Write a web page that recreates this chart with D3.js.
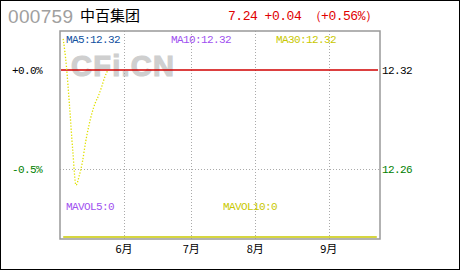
<!DOCTYPE html>
<html>
<head>
<meta charset="utf-8">
<script src="https://cdn.jsdelivr.net/npm/d3@7"></script>
<style>
  body { margin: 0; background: #fff; }
  svg text { font-family: "Liberation Mono", "DejaVu Sans Mono", monospace; }
  .lbl { font-size: 11px; letter-spacing: -0.6px; }
</style>
</head>
<body>
<div id="chart"></div>
<script>
// stock header
var code = "000759", name = "中百集团";
var quote = "7.24 +0.04 \uFF08+0.56%\uFF09";
var basePrice = 12.32;

// trading day index of month starts, with labels
var monthLabels = ["6月", "7月", "8月", "9月"];
var monthDays = [20, 41, 61, 84];

// line: trading day index and % change vs base
var lineDays = [1, 2, 3, 4, 5, 6, 7, 8, 9, 10, 11, 12, 13, 14, 15];
var lineValues = [0.157, 0.02, -0.187, -0.409, -0.581, -0.535, -0.465, -0.364, -0.283, -0.217, -0.167, -0.131, -0.086, -0.035, 0.0];

// y ticks (%)
var pctTicks = [0, -0.5];

var maLabels = ["MA5:12.32", "MA10:12.32", "MA30:12.32"];
var volLabels = ["MAVOL5:0", "MAVOL10:0"];

var W = 460, H = 270;
var pLeft = 60, pRight = 380, pTop = 31, pBottom = 239;

var svg = d3.select("#chart").append("svg")
  .attr("width", W).attr("height", H);

// outer border
svg.append("rect")
  .attr("x", 0.5).attr("y", 0.5)
  .attr("width", W - 1).attr("height", H - 1)
  .attr("fill", "#fff").attr("stroke", "#000");

var x = d3.scaleLinear().domain([0, 100]).range([pLeft, pRight]);
var y = d3.scaleLinear().domain([-0.5, 0]).range([169, 70]);
var volY = d3.scaleLinear().domain([0, 1]).range([237, 190]);

// header
svg.append("text")
  .attr("x", 8).attr("y", 23)
  .style("font-family", "Arial, 'Liberation Sans', sans-serif")
  .style("font-size", "19px")
  .attr("fill", "#a0a0a0")
  .attr("textLength", 65)
  .text(code);

svg.append("text")
  .attr("x", 80).attr("y", 21)
  .style("font-family", "'Noto Sans CJK SC', sans-serif")
  .style("font-size", "15px")
  .attr("fill", "#000")
  .text(name);

svg.append("text")
  .attr("x", 228).attr("y", 20)
  .style("font-size", "13px")
  .attr("fill", "#e00000")
  .attr("textLength", 150)
  .text(quote);

// watermark
svg.append("text")
  .attr("x", 71).attr("y", 76)
  .style("font-family", "Arial, 'Liberation Sans', sans-serif")
  .style("font-size", "29px")
  .style("font-weight", "bold")
  .attr("fill", "#cfcfcf")
  .attr("stroke", "#cfcfcf")
  .attr("stroke-width", 1.2)
  .attr("textLength", 103)
  .text("CFi.CN");

// vertical grid
svg.selectAll(".vgrid").data(monthDays).enter().append("line")
  .attr("x1", function(d) { return Math.round(x(d)) + 0.5; })
  .attr("x2", function(d) { return Math.round(x(d)) + 0.5; })
  .attr("y1", pTop).attr("y2", pBottom)
  .attr("stroke", "#aaa").attr("stroke-dasharray", "1,2");

// horizontal grid at -0.5%
svg.append("line")
  .attr("x1", pLeft).attr("x2", pRight)
  .attr("y1", y(-0.5) + 0.5).attr("y2", y(-0.5) + 0.5)
  .attr("stroke", "#aaa").attr("stroke-dasharray", "1,2");

// frame
svg.append("rect")
  .attr("x", pLeft).attr("y", pTop)
  .attr("width", pRight - pLeft).attr("height", pBottom - pTop)
  .attr("fill", "none").attr("stroke", "#999").attr("stroke-width", 1.5);

// base line
svg.append("line")
  .attr("x1", pLeft + 1).attr("x2", pRight - 2)
  .attr("y1", y(0)).attr("y2", y(0))
  .attr("stroke", "#d00000").attr("stroke-width", 1.5);

// volume baseline
svg.append("line")
  .attr("x1", x(1)).attr("x2", x(99))
  .attr("y1", volY(0)).attr("y2", volY(0))
  .attr("stroke", "#c8c800").attr("stroke-width", 1.5);

// price line
var line = d3.line()
  .x(function(d, i) { return x(lineDays[i]); })
  .y(function(d) { return y(d); })
  .curve(d3.curveMonotoneX);

svg.append("path")
  .datum(lineValues)
  .attr("d", line)
  .attr("fill", "none")
  .attr("stroke", "#e0e000")
  .attr("stroke-width", 1.3)
  .attr("stroke-dasharray", "1.3,1.7");

// left % axis labels
svg.selectAll(".pct").data(pctTicks).enter().append("text")
  .attr("class", "lbl")
  .attr("x", 42).attr("y", function(d) { return y(d) + 4; })
  .attr("text-anchor", "end")
  .attr("fill", function(d) { return d < 0 ? "#008000" : "#000"; })
  .text(function(d) { return (d < 0 ? "-" : "+") + Math.abs(d).toFixed(1) + "%"; });

// right price labels
svg.selectAll(".px").data(pctTicks).enter().append("text")
  .attr("class", "lbl")
  .attr("x", 382).attr("y", function(d) { return y(d) + 4; })
  .attr("fill", function(d) { return d < 0 ? "#008000" : "#000"; })
  .text(function(d) { return (basePrice * (1 + d / 100)).toFixed(2); });

// month labels
svg.selectAll(".mon").data(monthDays).enter().append("text")
  .attr("x", function(d) { return x(d); })
  .attr("y", 253)
  .attr("text-anchor", "middle")
  .style("font-family", "'Noto Sans CJK SC', sans-serif")
  .style("font-size", "11px")
  .attr("fill", "#000")
  .text(function(d, i) { return monthLabels[i]; });

// MA legends
var maColors = ["#1050a0", "#a050f0", "#c8c800"];
var maX = [66, 171, 276];
svg.selectAll(".ma").data(maLabels).enter().append("text")
  .attr("class", "lbl")
  .attr("x", function(d, i) { return maX[i]; })
  .attr("y", 43)
  .attr("fill", function(d, i) { return maColors[i]; })
  .text(function(d) { return d; });

var volColors = ["#a050f0", "#c8c800"];
var volX = [66, 223];
svg.selectAll(".vol").data(volLabels).enter().append("text")
  .attr("class", "lbl")
  .attr("x", function(d, i) { return volX[i]; })
  .attr("y", 210)
  .attr("fill", function(d, i) { return volColors[i]; })
  .text(function(d) { return d; });
</script>
</body>
</html>
